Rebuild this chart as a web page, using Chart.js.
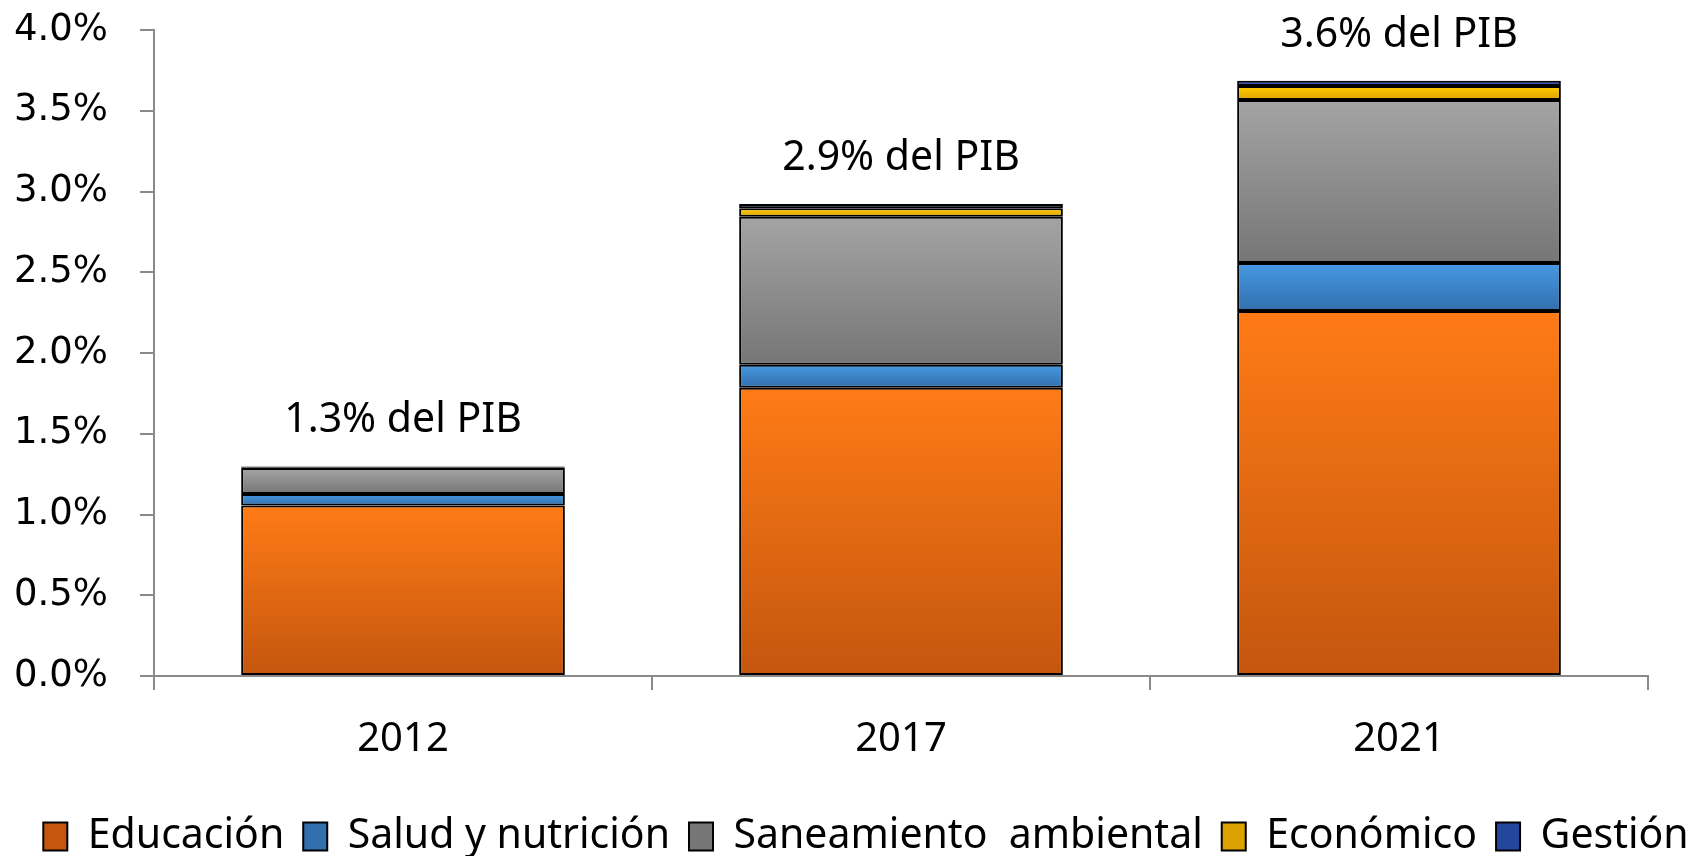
<!DOCTYPE html>
<html>
<head>
<meta charset="utf-8">
<script src="https://cdn.jsdelivr.net/npm/chart.js@4.4.1/dist/chart.umd.min.js"></script>
<style>
  html, body { margin: 0; padding: 0; background: #fff; }
  #wrap { width: 1690px; height: 856px; position: relative; }
</style>
</head>
<body>
<div id="wrap"><canvas id="gasto-chart"></canvas></div>
<script>
  var years = ["2012", "2017", "2021"];
  var educacion = [1.055, 1.785, 2.26];
  var salud = [0.072, 0.143, 0.297];
  var saneamiento = [0.161, 0.916, 1.01];
  var economico = [0.005, 0.052, 0.087];
  var gestion = [0.004, 0.027, 0.031];
  var pibLabels = ["1.3% del PIB", "2.9% del PIB", "3.6% del PIB"];
  var yTicks = [0, 0.5, 1, 1.5, 2, 2.5, 3, 3.5, 4];

  var series = [
    { label: "Educación", data: educacion, top: "#ff7b16", mid: "#e56a12", bottom: "#c4560e" },
    { label: "Salud y nutrición", data: salud, top: "#4699e2", mid: "#3d86cc", bottom: "#326fae" },
    { label: "Saneamiento  ambiental", data: saneamiento, top: "#a4a4a4", mid: "#8e8e8e", bottom: "#767676" },
    { label: "Económico", data: economico, top: "#ffd000", mid: "#f2bb00", bottom: "#dea200" },
    { label: "Gestión", data: gestion, top: "#3466cc", mid: "#2c58b6", bottom: "#22479c" },
  ];

  function segmentFill(si) {
    return function (ctx) {
      var chart = ctx.chart;
      var s = series[si];
      if (ctx.dataIndex === undefined || !chart.chartArea || !chart.scales.y) {
        return s.mid;
      }
      var i = ctx.dataIndex;
      var start = 0;
      for (var k = 0; k < si; k++) {
        start += series[k].data[i];
      }
      var end = start + s.data[i];
      var y = chart.scales.y;
      var g = chart.ctx.createLinearGradient(0, y.getPixelForValue(end), 0, y.getPixelForValue(start));
      g.addColorStop(0, s.top);
      g.addColorStop(1, s.bottom);
      return g;
    };
  }

  var shadowPlugin = {
    id: "barShadow",
    beforeDatasetsDraw: function (chart) {
      var c = chart.ctx;
      c.save();
      c.shadowColor = "rgba(0,0,0,0.22)";
      c.shadowBlur = 7;
      c.shadowOffsetX = 4;
      c.shadowOffsetY = 0;
    },
    afterDatasetsDraw: function (chart) {
      chart.ctx.restore();
    },
  };

  // nudge the legend so it sits where the original one does
  var legendShift = {
    id: "legendShift",
    afterLayout: function (chart) {
      var lg = chart.legend;
      if (!lg) {
        return;
      }
      lg.left += 21;
      lg.right += 21;
      lg.top += 11;
      lg.bottom += 11;
    },
  };

  var totalsPlugin = {
    id: "pibTotals",
    afterDraw: function (chart) {
      var c = chart.ctx;
      var x = chart.scales.x;
      var y = chart.scales.y;
      c.save();
      c.fillStyle = "#000";
      c.font = "41px 'Noto Sans'";
      c.textAlign = "center";
      c.textBaseline = "middle";
      years.forEach(function (yr, i) {
        var total = 0;
        series.forEach(function (s) { total += s.data[i]; });
        c.fillText(pibLabels[i], x.getPixelForValue(i), y.getPixelForValue(total) - 46);
      });
      c.restore();
    },
  };

  new Chart(document.getElementById("gasto-chart"), {
    type: "bar",
    data: {
      labels: years,
      datasets: series.map(function (s, si) {
        return {
          label: s.label,
          data: s.data,
          backgroundColor: segmentFill(si),
          borderColor: "#000",
          borderWidth: 2,
          borderSkipped: false,
          barPercentage: 0.65,
          categoryPercentage: 1,
        };
      }),
    },
    options: {
      responsive: true,
      maintainAspectRatio: false,
      animation: false,
      layout: { padding: { top: 30, right: 0, left: 0, bottom: 0 } },
      plugins: {
        tooltip: { enabled: false },
        legend: {
          position: "bottom",
          labels: {
            color: "#000",
            font: { family: "'Noto Sans'", size: 41 },
            boxWidth: 24,
            boxHeight: 28,
            padding: 19,
          },
        },
      },
      scales: {
        x: {
          stacked: true,
          grid: { drawOnChartArea: false, drawTicks: true, tickLength: 14, color: "#8a8a8a", lineWidth: 2, offset: true },
          border: { display: true, color: "#8a8a8a", width: 2 },
          ticks: { color: "#000", font: { family: "'Noto Sans'", size: 40 }, padding: 26 },
          afterFit: function (scale) { scale.height = 110; },
        },
        y: {
          stacked: true,
          min: 0,
          max: 4,
          afterBuildTicks: function (scale) {
            scale.ticks = yTicks.map(function (v) { return { value: v }; });
          },
          grid: { drawOnChartArea: false, drawTicks: true, tickLength: 14, color: "#8a8a8a", lineWidth: 2 },
          border: { display: true, color: "#8a8a8a", width: 2 },
          ticks: {
            color: "#000",
            font: { family: "'DejaVu Sans'", size: 37 },
            padding: 32,
            callback: function (v) { return Number(v).toFixed(1) + "%"; },
          },
          afterFit: function (scale) {
            scale.width = 154;
            scale.paddingTop = 0;
            scale.paddingBottom = 0;
          },
        },
        rightGap: {
          position: "right",
          display: true,
          min: 0,
          max: 4,
          grid: { display: false, drawTicks: false },
          border: { display: false },
          ticks: { display: false },
          afterFit: function (scale) { scale.width = 42; },
        },
      },
    },
    plugins: [shadowPlugin, legendShift, totalsPlugin],
  });
</script>
</body>
</html>
